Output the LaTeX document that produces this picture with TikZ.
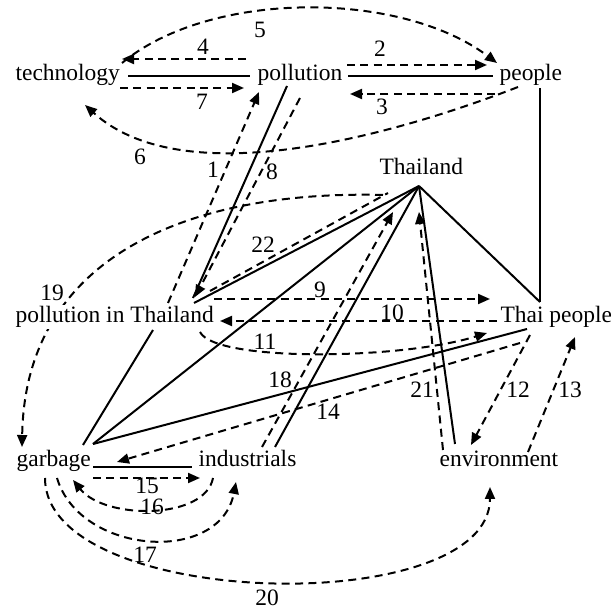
\documentclass[tikz,border=0pt]{standalone}
\usepackage{fontspec}
\setmainfont{Liberation Serif}
\usetikzlibrary{arrows.meta,backgrounds}
\begin{document}
\begin{tikzpicture}[x=0.75pt,y=-0.75pt,
  every node/.style={font=\fontsize{17.6}{20}\selectfont, inner sep=0pt},
  term/.style={anchor=base west, inner sep=1pt},
  lab/.style={anchor=center},
  link/.style={line width=1.5pt},
  rel/.style={line width=1.5pt, dash pattern=on 6pt off 4pt, -{Triangle[length=9pt,width=7.5pt]}},
  relplain/.style={line width=1.5pt, dash pattern=on 6pt off 4pt},
]
\useasboundingbox (0,0) rectangle (611,609);
% terms
\node[term] (tech) at (14,81) {technology};
\node[term] (poll) at (256,81) {pollution};
\node[term] (peop) at (498,81) {people};
\node[term] (thai) at (378,175) {Thailand};
\node[term,fill=white] (pit) at (14,323) {pollution in Thailand};
\node[term] (tp) at (499,323) {Thai people};
\node[term] (garb) at (15,467) {garbage};
\node[term] (ind) at (197,467) {industrials};
\node[term] (env) at (438,467) {environment};
% labels
\node[lab] (l1) at (213,170) {1};
\node[lab] (l2) at (380,49) {2};
\node[lab] (l3) at (382,107) {3};
\node[lab] (l4) at (203,47) {4};
\node[lab] (l5) at (260,30) {5};
\node[lab] (l6) at (140,157) {6};
\node[lab] (l7) at (202,102) {7};
\node[lab] (l8) at (272,172) {8};
\node[lab] (l9) at (320,290) {9};
\node[lab] (l10) at (392,313) {10};
\node[lab] (l11) at (265,342) {11};
\node[lab] (l12) at (518,390) {12};
\node[lab] (l13) at (570,390) {13};
\node[lab] (l14) at (328,412) {14};
\node[lab] (l15) at (147,486) {15};
\node[lab] (l16) at (152,507) {16};
\node[lab] (l17) at (145,555) {17};
\node[lab] (l18) at (280,380) {18};
\node[lab] (l19) at (52,293) {19};
\node[lab] (l20) at (267,598) {20};
\node[lab] (l21) at (422,390) {21};
\node[lab] (l22) at (263,245) {22};
% connector end points
\coordinate (tE1) at (128,76); \coordinate (pW1) at (250,76);
\coordinate (pW4) at (246,59); \coordinate (tE4) at (122,59);
\coordinate (tE7) at (120,88); \coordinate (pW7) at (244,88);
\coordinate (pE2) at (347,65); \coordinate (eW2) at (487,65);
\coordinate (pE1) at (348,76); \coordinate (eW1) at (493,76);
\coordinate (eW3) at (495,94); \coordinate (pE3) at (350,94);
\coordinate (tN5) at (122,63); \coordinate (eN5) at (497,63);
\coordinate (eS6) at (518,87); \coordinate (tS6) at (85,105);
\coordinate (pitN1) at (168,303); \coordinate (pS1) at (259,92);
\coordinate (pS) at (287,86); \coordinate (pitN) at (193,298);
\coordinate (pS8) at (300,98); \coordinate (pitN8) at (195,297);
\coordinate (T) at (419,186);
\coordinate (pitNE) at (194,303);
\coordinate (pit22) at (210,291); \coordinate (T22) at (388,193);
\coordinate (T19) at (383,195); \coordinate (g19) at (22,447);
\coordinate (pit9) at (214,299); \coordinate (tp9) at (490,299);
\coordinate (tp10) at (497,321); \coordinate (pit10) at (220,321);
\coordinate (pit11) at (200,332); \coordinate (tp11) at (487,333);
\coordinate (gNE) at (93,444);
\coordinate (gN) at (83,445); \coordinate (pitS) at (153,330);
\coordinate (tpW) at (527,329);
\coordinate (iN) at (275,447);
\coordinate (i18) at (262,447); \coordinate (T18) at (393,212);
\coordinate (e21) at (443,450); \coordinate (T21) at (419,212);
\coordinate (eN) at (455,444);
\coordinate (tpN) at (540,302); \coordinate (peS) at (540,88);
\coordinate (tp14) at (520,343); \coordinate (g14) at (117,462);
\coordinate (tp12) at (530,335); \coordinate (e12) at (471,445);
\coordinate (e13) at (528,452); \coordinate (tp13) at (575,337);
\coordinate (gE) at (93,467); \coordinate (iW) at (192,467);
\coordinate (g15) at (93,478); \coordinate (i15) at (200,478);
\coordinate (i16) at (213,478); \coordinate (g16) at (73,480);
\coordinate (g17) at (57,478); \coordinate (i17) at (236,482);
\coordinate (g20) at (45,478); \coordinate (e20) at (490,487);
\begin{pgfonlayer}{background}
% solid links
\draw[link] (tE1) -- (pW1);
\draw[link] (pE1) -- (eW1);
\draw[link] (pS) -- (pitN);
\draw[link] (T) -- (pitNE);
\draw[link] (gNE) -- (T);
\draw[link] (gN) -- (pitS);
\draw[link] (gNE) -- (tpW);
\draw[link] (iN) -- (T);
\draw[link] (T) -- (eN);
\draw[link] (T) -- (tpN);
\draw[link] (peS) -- (tpN);
\draw[link] (gE) -- (iW);
% relations
\draw[rel] (pitN1) -- (pS1);
\draw[rel] (pE2) -- (eW2);
\draw[rel] (eW3) -- (pE3);
\draw[rel] (pW4) -- (tE4);
\draw[rel] (tN5) .. controls (210,-10) and (400,-10) .. (eN5);
\draw[rel] (eS6) .. controls (420,125) and (190,200) .. (tS6);
\draw[rel] (tE7) -- (pW7);
\draw[rel] (pS8) -- (pitN8);
\draw[rel] (pit9) -- (tp9);
\draw[rel] (tp10) -- (pit10);
\draw[rel] (pit11) .. controls (215,362) and (400,360) .. (tp11);
\draw[rel] (tp12) -- (e12);
\draw[rel] (e13) -- (tp13);
\draw[rel] (tp14) -- (g14);
\draw[rel] (g15) -- (i15);
\draw[rel] (i16) .. controls (205,520) and (105,520) .. (g16);
\draw[rel] (g17) .. controls (80,555) and (220,565) .. (i17);
\draw[rel] (i18) -- (T18);
\draw[rel] (T19) .. controls (200,190) and (25,250) .. (g19);
\draw[rel] (g20) .. controls (45,610) and (490,620) .. (e20);
\draw[rel] (e21) -- (T21);
\draw[relplain] (pit22) -- (T22);
\end{pgfonlayer}
\end{tikzpicture}
\end{document}
